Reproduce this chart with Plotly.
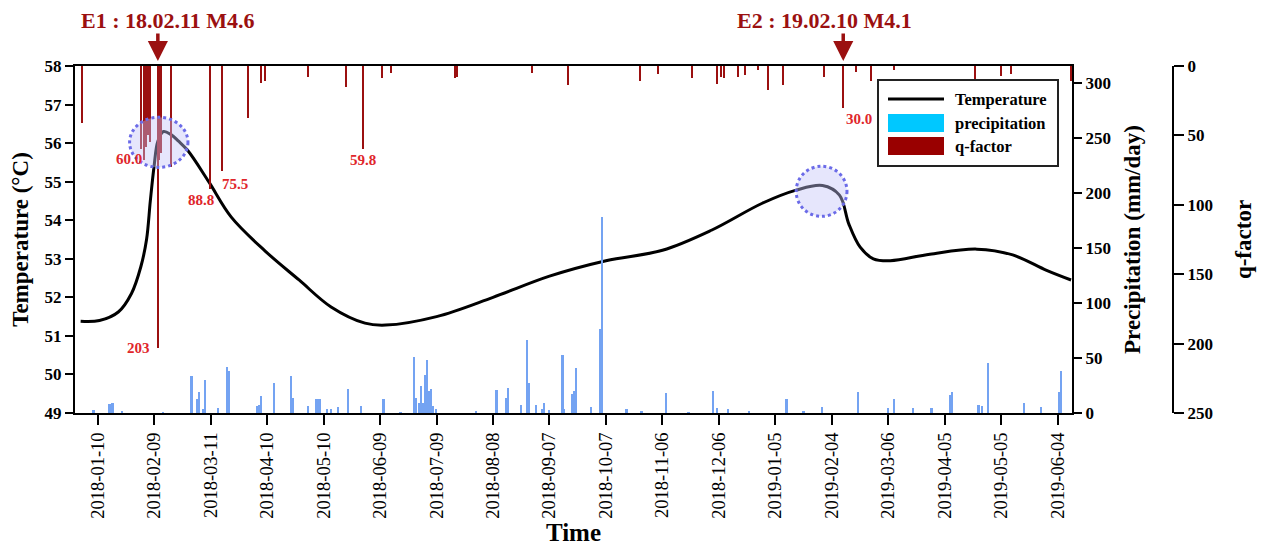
import plotly.graph_objects as go

# ---- data ---------------------------------------------------------------
temp_dates = [
    "2018-01-01", "2018-01-11", "2018-01-21", "2018-01-28", "2018-02-02",
    "2018-02-05", "2018-02-07", "2018-02-09", "2018-02-11", "2018-02-14",
    "2018-02-18", "2018-02-22", "2018-02-27", "2018-03-10", "2018-03-22",
    "2018-04-09", "2018-04-27", "2018-05-14", "2018-06-01", "2018-06-12",
    "2018-07-09", "2018-08-08", "2018-09-07", "2018-10-07", "2018-11-06",
    "2018-12-02", "2018-12-29", "2019-01-16", "2019-01-30", "2019-02-08",
    "2019-02-13", "2019-02-19", "2019-02-26", "2019-03-07", "2019-03-28",
    "2019-04-22", "2019-05-11", "2019-05-29", "2019-06-11",
]
temp_values = [
    51.38, 51.40, 51.62, 52.10, 52.80,
    53.50, 54.50, 55.40, 56.05, 56.30,
    56.22, 56.05, 55.80, 55.00, 54.08,
    53.20, 52.45, 51.75, 51.33, 51.28,
    51.50, 52.00, 52.55, 52.95, 53.22,
    53.74, 54.44, 54.78, 54.90, 54.65,
    53.90, 53.30, 53.00, 52.95, 53.12,
    53.25, 53.10, 52.70, 52.45,
]

precip_dates = [
    "2018-01-08", "2018-01-16", "2018-01-17", "2018-01-18", "2018-01-23",
    "2018-02-14", "2018-03-01", "2018-03-04", "2018-03-05", "2018-03-07",
    "2018-03-08", "2018-03-15", "2018-03-20", "2018-03-21", "2018-04-05",
    "2018-04-06", "2018-04-07", "2018-04-14", "2018-04-23", "2018-04-24",
    "2018-05-02", "2018-05-06", "2018-05-07", "2018-05-08", "2018-05-12",
    "2018-05-14", "2018-05-18", "2018-05-23", "2018-05-30", "2018-06-11",
    "2018-06-20", "2018-06-27", "2018-06-28", "2018-06-30", "2018-07-01",
    "2018-07-02", "2018-07-03", "2018-07-04", "2018-07-05", "2018-07-06",
    "2018-07-07", "2018-07-09", "2018-07-30", "2018-08-10", "2018-08-15",
    "2018-08-16", "2018-08-23", "2018-08-26", "2018-08-27", "2018-08-31",
    "2018-09-03", "2018-09-04", "2018-09-07", "2018-09-14", "2018-09-15",
    "2018-09-19", "2018-09-20", "2018-09-21", "2018-09-29", "2018-10-04",
    "2018-10-05", "2018-10-18", "2018-10-26", "2018-11-08", "2018-11-20",
    "2018-12-03", "2018-12-05", "2018-12-11", "2018-12-22", "2019-01-11",
    "2019-01-20", "2019-01-30", "2019-02-18", "2019-03-06", "2019-03-09",
    "2019-03-19", "2019-03-29", "2019-04-08", "2019-04-09", "2019-04-23",
    "2019-04-25", "2019-04-28", "2019-05-17", "2019-05-26", "2019-06-05",
    "2019-06-06",
]
precip_values = [
    2.7, 8.0, 8.5, 9.0, 1.0,
    0.8, 33.6, 12.4, 18.8, 3.6,
    30.0, 4.8, 42.0, 38.0, 6.7,
    7.0, 15.8, 27.0, 33.6, 14.0,
    6.4, 13.0, 13.0, 13.0, 3.3,
    3.3, 5.8, 21.5, 6.7, 12.4,
    0.8, 51.0, 14.0, 9.4, 25.0,
    9.0, 34.5, 48.0, 20.0, 21.5,
    6.0, 4.0, 1.0, 21.0, 14.0,
    23.0, 7.0, 66.0, 27.0, 7.0,
    4.0, 9.4, 3.0, 53.0, 4.0,
    17.0, 20.0, 40.6, 5.8, 76.0,
    178.0, 3.3, 1.5, 18.0, 0.8,
    20.0, 4.2, 3.3, 1.5, 12.4,
    1.0, 5.8, 19.4, 4.2, 12.4,
    4.2, 4.8, 16.4, 18.8, 7.3,
    6.4, 45.8, 8.8, 5.8, 18.8,
    38.0,
]

q_dates = [
    "2018-01-02", "2018-02-02", "2018-02-04", "2018-02-05", "2018-02-06",
    "2018-02-07", "2018-02-11", "2018-02-12", "2018-02-13", "2018-02-18",
    "2018-03-11", "2018-03-17", "2018-03-31", "2018-04-07", "2018-04-09",
    "2018-05-02", "2018-05-22", "2018-05-31", "2018-06-10", "2018-06-15",
    "2018-07-19", "2018-07-20", "2018-08-29", "2018-09-17", "2018-10-25",
    "2018-11-04", "2018-11-22", "2018-12-05", "2018-12-07", "2018-12-09",
    "2018-12-16", "2018-12-20", "2018-12-27", "2019-01-01", "2019-01-09",
    "2019-01-31", "2019-02-10", "2019-02-17", "2019-02-25", "2019-03-09",
    "2019-04-21", "2019-05-05", "2019-05-10", "2019-06-11",
]
q_values = [
    41.0, 60.0, 68.0, 58.0, 50.0,
    55.0, 203.0, 68.0, 63.0, 73.0,
    88.8, 75.5, 37.7, 12.0, 11.0,
    8.0, 15.0, 59.8, 9.0, 5.0,
    9.0, 8.0, 5.0, 14.0, 11.0,
    6.0, 9.0, 13.0, 8.0, 9.0,
    8.0, 6.5, 3.0, 17.0, 14.0,
    8.0, 30.0, 4.0, 11.0, 3.0,
    10.0, 7.0, 6.0, 11.0,
]

# labelled q-factor bars: date -> (xanchor, yanchor, xshift, yshift)
q_label_style = {
    "2018-02-02": ("right", "top", 3, 0),
    "2018-02-11": ("right", "middle", -6, 0),
    "2018-03-11": ("right", "top", 5, -1),
    "2018-03-17": ("left", "top", -2, -3),
    "2018-05-31": ("center", "top", 0, -1),
    "2019-02-10": ("left", "top", 1, -1),
}

events = [
    ("2018-02-11", "E1 : 18.02.11 M4.6", 10),
    ("2019-02-10", "E2 : 19.02.10 M4.1", -19),
]

# highlighted periods (date span, temperature span)
highlights = [
    ("2018-01-27", "2018-02-27", 55.37, 56.67),
    ("2019-01-16", "2019-02-12", 54.10, 55.40),
]

x_tick_dates = [
    "2018-01-10", "2018-02-09", "2018-03-11", "2018-04-10", "2018-05-10",
    "2018-06-09", "2018-07-09", "2018-08-08", "2018-09-07", "2018-10-07",
    "2018-11-06", "2018-12-06", "2019-01-05", "2019-02-04", "2019-03-06",
    "2019-04-05", "2019-05-05", "2019-06-04",
]

# ---- styling --------------------------------------------------------------
SERIF = "Liberation Serif"
DARK_RED = "#9B1010"
LABEL_RED = "#E0262B"
PRECIP_BLUE = "#74A3F2"
LEGEND_CYAN = "#00C8FF"
DAY_MS = 86400000

W, H = 1266, 549
PLOT_L, PLOT_R, PLOT_T, PLOT_B = 75, 1072, 66, 413
QAXIS_X = 1173


def dx(px):
    return (px - PLOT_L) / (PLOT_R - PLOT_L)


def dy(py):
    return (PLOT_B - py) / (PLOT_B - PLOT_T)


fig = go.Figure()

fig.add_trace(go.Bar(
    x=precip_dates, y=precip_values, yaxis="y2",
    width=[0.9 * DAY_MS] * len(precip_dates),
    marker=dict(color=PRECIP_BLUE, line=dict(width=0)),
    name="precipitation", showlegend=False,
))

fig.add_trace(go.Bar(
    x=q_dates, y=q_values, yaxis="y3",
    width=[0.8 * DAY_MS] * len(q_dates),
    marker=dict(color=DARK_RED, line=dict(width=0)),
    name="q-factor", showlegend=False,
))

fig.add_trace(go.Scatter(
    x=temp_dates, y=temp_values, yaxis="y",
    mode="lines", line=dict(color="black", width=3, shape="spline", smoothing=1.0),
    name="Temperature", showlegend=False,
))

shapes = []
annotations = []

for x0, x1, y0, y1 in highlights:
    shapes.append(dict(
        type="circle", xref="x", yref="y", x0=x0, x1=x1, y0=y0, y1=y1,
        fillcolor="rgba(195,195,248,0.42)",
        line=dict(color="#6B6BE8", width=3, dash="dot"), layer="above",
    ))

# value labels on the q-factor bars
for d, v in zip(q_dates, q_values):
    if d in q_label_style:
        xa, ya, xs, ys = q_label_style[d]
        txt = f"{v:.0f}" if v >= 100 else f"{v:.1f}"
        annotations.append(dict(
            x=d, y=v, xref="x", yref="y3", text=txt, showarrow=False,
            xanchor=xa, yanchor=ya, xshift=xs, yshift=ys,
            font=dict(family=SERIF, size=15, color=LABEL_RED, weight="bold"),
        ))

# earthquake markers
for d, txt, shift in events:
    annotations.append(dict(
        x=d, y=1, xref="x", yref="paper", text="", showarrow=True,
        ax=0, ay=-34, arrowhead=2, arrowsize=1.15, arrowwidth=3.5,
        arrowcolor=DARK_RED, standoff=5,
    ))
    annotations.append(dict(
        x=d, y=1, xref="x", yref="paper", text=txt, showarrow=False,
        xanchor="center", yanchor="middle", xshift=shift, yshift=46,
        font=dict(family=SERIF, size=22, color=DARK_RED, weight="bold"),
    ))

# legend box
shapes.append(dict(type="rect", xref="x domain", yref="y domain",
                   x0=dx(878), x1=dx(1058), y0=dy(166), y1=dy(80),
                   line=dict(color="#222", width=2), fillcolor="white", layer="above"))
shapes.append(dict(type="line", xref="x domain", yref="y domain",
                   x0=dx(888), x1=dx(944), y0=dy(99), y1=dy(99),
                   line=dict(color="black", width=3), layer="above"))
shapes.append(dict(type="rect", xref="x domain", yref="y domain",
                   x0=dx(888), x1=dx(944), y0=dy(132), y1=dy(114),
                   line=dict(width=0), fillcolor=LEGEND_CYAN, layer="above"))
shapes.append(dict(type="rect", xref="x domain", yref="y domain",
                   x0=dx(888), x1=dx(944), y0=dy(155), y1=dy(137),
                   line=dict(width=0), fillcolor="#990000", layer="above"))
for py, txt in [(99, "Temperature"), (123, "precipitation"), (146, "q-factor")]:
    annotations.append(dict(
        x=dx(953), y=dy(py), xref="x domain", yref="y domain", text=txt,
        showarrow=False, xanchor="left", yanchor="middle",
        font=dict(family=SERIF, size=16.5, color="black", weight="bold"),
    ))

tick_font = dict(family=SERIF, size=17, color="black", weight="bold")
title_font = dict(family=SERIF, size=23, color="black", weight="bold")

x_domain_end = (PLOT_R - PLOT_L) / (QAXIS_X - PLOT_L)

fig.update_layout(
    width=W, height=H,
    margin=dict(l=PLOT_L, r=W - QAXIS_X, t=PLOT_T, b=H - PLOT_B, autoexpand=False),
    paper_bgcolor="white", plot_bgcolor="white",
    barmode="overlay", bargap=0,
    showlegend=False,
    shapes=shapes, annotations=annotations,
    xaxis=dict(
        domain=[0, x_domain_end], automargin=False,
        type="date", range=["2017-12-29", "2019-06-11 12:00"],
        tickmode="array", tickvals=x_tick_dates, ticktext=x_tick_dates,
        tickangle=-90, ticks="outside", ticklen=10, tickwidth=2, tickcolor="black",
        showline=True, linecolor="black", linewidth=2, mirror=True,
        showgrid=False, zeroline=False,
        tickfont=dict(family=SERIF, size=18.5, color="black"),
        title=dict(text="Time", font=dict(family=SERIF, size=25, color="black", weight="bold"),
                   standoff=4),
    ),
    yaxis=dict(
        range=[49, 58], dtick=1, ticks="outside", ticklen=8, tickwidth=2, tickcolor="black",
        showline=True, linecolor="black", linewidth=2, automargin=False,
        showgrid=False, zeroline=False, tickfont=tick_font,
        title=dict(text="Temperature (°C)", font=title_font, standoff=10),
    ),
    yaxis2=dict(
        overlaying="y", side="right", anchor="x", automargin=False,
        range=[0, 315.5], tickvals=[0, 50, 100, 150, 200, 250, 300],
        ticks="outside", ticklen=8, tickwidth=2, tickcolor="black",
        showline=True, linecolor="black", linewidth=2,
        showgrid=False, zeroline=False, tickfont=tick_font,
        title=dict(text="Precipitation (mm/day)", font=title_font, standoff=14),
    ),
    yaxis3=dict(
        overlaying="y", side="right", anchor="free", position=1.0, automargin=False,
        range=[250, 0], tickvals=[0, 50, 100, 150, 200, 250],
        ticks="outside", ticklen=10, tickwidth=2, tickcolor="black",
        showline=True, linecolor="black", linewidth=2,
        showgrid=False, zeroline=False, tickfont=tick_font,
        title=dict(text="q-factor", font=title_font, standoff=22),
    ),
)

fig.write_html("out.html")
